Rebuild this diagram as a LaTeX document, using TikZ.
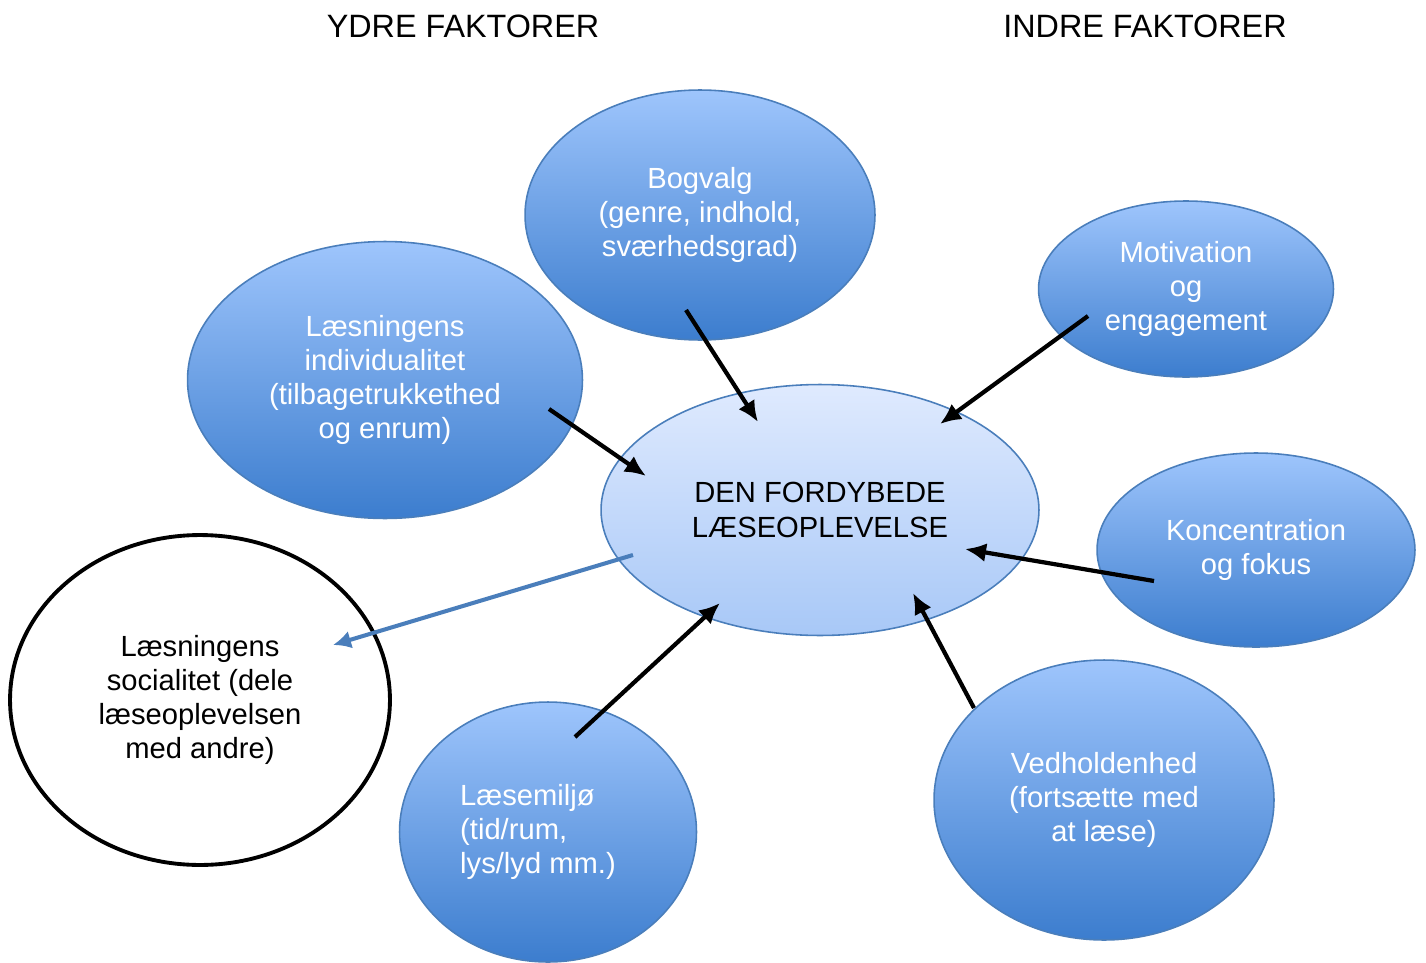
\documentclass[tikz,border=0pt]{standalone}
\usepackage{fontspec}
\setmainfont{Liberation Sans}
\usetikzlibrary{shapes.geometric,arrows.meta,calc}

\definecolor{rimblue}{HTML}{4A7EBB}
\definecolor{topblue}{HTML}{9EC5FC}
\definecolor{lowblue}{HTML}{3C7DCE}
\definecolor{midtop}{HTML}{DFEAFE}
\definecolor{midlow}{HTML}{A8C8F7}

\tikzset{
  faktor/.style={ellipse, draw=rimblue, line width=0.9pt, top color=topblue,
    bottom color=lowblue, text=white, align=center, inner sep=0pt,
    font=\fontsize{16.6}{19.5}\selectfont},
  arr/.style={-{Latex[length=0.42cm,width=0.38cm]}, line width=2.4pt, black},
}

\begin{document}
\begin{tikzpicture}[x=0.02cm,y=-0.02cm]
\useasboundingbox (0,0) rectangle (1426,963);

\node[font=\fontsize{18.4}{22}\selectfont] (ydre) at (463,26) {YDRE FAKTORER};
\node[font=\fontsize{18.4}{22}\selectfont] (indre) at (1145,26) {INDRE FAKTORER};

\node[faktor, minimum width=7cm, minimum height=5cm] (bog) at (700,215)
  {Bogvalg\\(genre, indhold,\\sværhedsgrad)};
\node[faktor, minimum width=5.9cm, minimum height=3.52cm] (mot) at (1186,289)
  {Motivation\\og\\engagement};
\node[faktor, minimum width=7.9cm, minimum height=5.54cm] (ind) at (385,380)
  {Læsningens\\individualitet\\(tilbagetrukkethed\\og enrum)};
\node[ellipse, draw=rimblue, line width=0.9pt, top color=midtop, bottom color=midlow,
  minimum width=8.76cm, minimum height=5.02cm, align=center,
  font=\fontsize{16.6}{19.5}\selectfont] (mid) at (820,510)
  {DEN FORDYBEDE\\LÆSEOPLEVELSE};
\node[faktor, minimum width=6.36cm, minimum height=3.88cm] (kon) at (1256,550)
  {Koncentration\\og fokus};
\node[ellipse, draw=black, line width=2.2pt, fill=white, minimum width=7.6cm,
  minimum height=6.6cm, align=center, font=\fontsize{16.6}{19.5}\selectfont] (soc) at (200,700)
  {Læsningens\\socialitet (dele\\læseoplevelsen\\med andre)};
\node[faktor, minimum width=5.94cm, minimum height=5.2cm, align=left] (mil) at (548,832)
  {Læsemiljø\\(tid/rum,\\lys/lyd mm.)\hspace*{0.4cm}};
\node[faktor, minimum width=6.8cm, minimum height=5.6cm] (ved) at (1104,800)
  {Vedholdenhed\\(fortsætte med\\at læse)};

\draw[arr] ($(bog)+(-14,95)$) -- ($(mid)+(-62,-88)$);
\draw[arr] ($(mot)+(-98,27)$) -- ($(mid)+(120,-86)$);
\draw[arr] ($(ind)+(164,29)$) -- ($(mid)+(-174,-34)$);
\draw[arr] ($(kon)+(-102,31)$) -- ($(mid)+(145,39)$);
\draw[arr] ($(ved)+(-130,-92)$) -- ($(mid)+(93,83)$);
\draw[arr] ($(mil)+(27,-95)$) -- ($(mid)+(-100,93)$);
\draw[arr, rimblue, line width=2.3pt, -{Latex[length=0.36cm,width=0.36cm]}]
  ($(mid)+(-187,45)$) -- ($(soc)+(133,-55)$);
\end{tikzpicture}
\end{document}
